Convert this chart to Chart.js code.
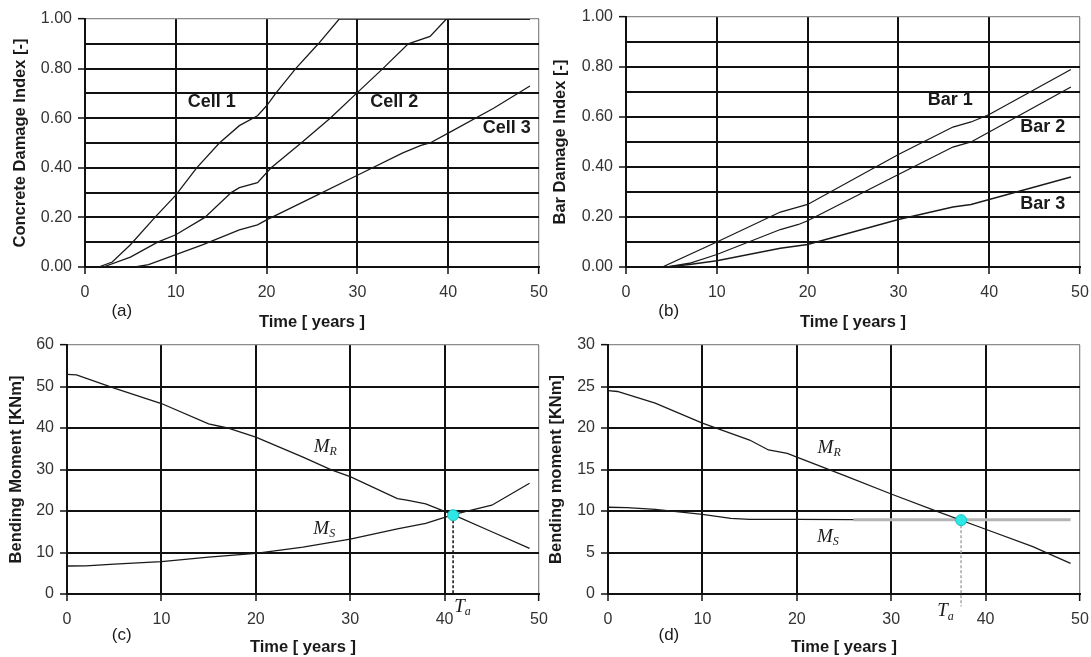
<!DOCTYPE html>
<html>
<head>
<meta charset="utf-8">
<title>Damage index and bending moment over time</title>
<script src="https://cdn.jsdelivr.net/npm/chart.js@4.4.1/dist/chart.umd.min.js"></script>
<style>
  html, body { margin: 0; padding: 0; background: #fff; }
  #wrap { position: relative; width: 1091px; height: 657px; overflow: hidden; }
  #wrap canvas { position: absolute; left: 0; top: 0; }
</style>
</head>
<body>
<div id="wrap">
  <canvas id="pa" width="1091" height="657"></canvas>
  <canvas id="pb" width="1091" height="657"></canvas>
  <canvas id="pc" width="1091" height="657"></canvas>
  <canvas id="pd" width="1091" height="657"></canvas>
</div>
<script>
// (a) concrete damage index per cell
const cell1T = [1.5, 3, 5, 7.7, 10, 12.3, 14.8, 17, 19, 20, 21, 23.2, 25.7, 28, 49];
const cell1D = [0, 0.02, 0.09, 0.2, 0.29, 0.4, 0.5, 0.57, 0.61, 0.65, 0.7, 0.8, 0.9, 1.0, 1.0];
const cell2T = [2, 5, 8, 10, 13.2, 16.1, 17, 19, 20.5, 23.8, 27, 29.9, 32.8, 35.6, 38, 39.8, 49];
const cell2D = [0, 0.04, 0.1, 0.13, 0.2, 0.3, 0.32, 0.34, 0.4, 0.5, 0.6, 0.7, 0.8, 0.9, 0.93, 1.0, 1.0];
const cell3T = [5.5, 7, 10, 13, 17, 19, 20, 25, 30, 35, 37, 38, 40, 45, 49];
const cell3D = [0, 0.01, 0.05, 0.09, 0.15, 0.17, 0.19, 0.28, 0.37, 0.46, 0.49, 0.5, 0.54, 0.64, 0.73];

// (b) bar damage index
const bar1T = [4, 10, 17, 20, 30, 36, 38, 40, 49];
const bar1D = [0, 0.10, 0.22, 0.25, 0.45, 0.56, 0.58, 0.61, 0.79];
const bar2T = [4.5, 7, 10, 17, 19, 20, 30, 36, 38, 40, 49];
const bar2D = [0, 0.015, 0.05, 0.15, 0.17, 0.185, 0.37, 0.48, 0.50, 0.54, 0.72];
const bar3T = [4.5, 7, 10, 17, 20, 30, 36, 38, 40, 49];
const bar3D = [0, 0.01, 0.025, 0.075, 0.09, 0.19, 0.24, 0.25, 0.27, 0.36];

// (c) bending moment, resistance and load effect
const mrcT = [0, 1, 5, 10, 15, 17, 20, 25, 28, 30, 35, 36, 38, 41, 45, 49];
const mrcM = [52.9, 52.8, 49.6, 45.9, 41, 40, 37.8, 33, 29.9, 28.3, 23, 22.6, 21.7, 19, 15, 11];
const mscT = [0, 2, 5, 10, 15, 20, 25, 30, 35, 38, 41, 45, 49];
const mscM = [6.75, 6.8, 7.2, 7.8, 8.9, 9.8, 11.3, 13.2, 15.7, 17, 19.2, 21.4, 26.7];
const crossC = { t: 40.9, m: 19.0 };

// (d) bending moment
const mrdT = [0, 1, 5, 10, 15, 17, 19, 20, 25, 30, 35, 40, 45, 49];
const mrdM = [24.5, 24.4, 23, 20.6, 18.55, 17.35, 16.95, 16.5, 14.3, 12.05, 9.9, 7.8, 5.7, 3.7];
const msdT = [0, 2, 5, 10, 13, 15, 20, 26];
const msdM = [10.45, 10.4, 10.2, 9.6, 9.1, 9.0, 9.0, 8.95];
const msdGreyT = [26, 49];
const msdGreyM = [8.95, 8.95];
const crossD = { t: 37.4, m: 8.9 };

const xTicks = [0, 10, 20, 30, 40, 50];

const SANS = '"Liberation Sans", Arial, sans-serif';
const SERIF = '"Liberation Serif", "Times New Roman", serif';
const W = 1091, H = 657;

const pts = (xs, ys) => xs.map((x, i) => ({ x: x, y: ys[i] }));
const line = (data, color, width) => ({
  data: data, borderColor: color || '#1a1a1a', borderWidth: width || 1.3,
  pointRadius: 0, tension: 0, fill: false
});

// text drawn on top of the plot: plain labels and italic symbols with a subscript
const notesPlugin = {
  id: 'notes',
  afterDatasetsDraw(chart, args, opts) {
    const { ctx, scales: { x, y }, chartArea } = chart;
    ctx.save();
    ctx.fillStyle = '#1a1a1a';
    ctx.textBaseline = 'middle';
    (opts.items || []).forEach(n => {
      const px = x.getPixelForValue(n.x);
      const py = n.dy !== undefined ? chartArea.bottom + n.dy : y.getPixelForValue(n.y);
      if (n.sub) {
        ctx.font = 'italic 19px ' + SERIF;
        const w1 = ctx.measureText(n.t).width;
        ctx.font = 'italic 12px ' + SERIF;
        const w2 = ctx.measureText(n.sub).width;
        const left = px - (w1 + w2) / 2;
        ctx.textAlign = 'left';
        ctx.font = 'italic 19px ' + SERIF;
        ctx.fillText(n.t, left, py);
        ctx.font = 'italic 12px ' + SERIF;
        ctx.fillText(n.sub, left + w1, py + 5);
      } else {
        ctx.textAlign = 'center';
        ctx.font = n.font;
        ctx.fillText(n.t, px, py);
      }
    });
    ctx.restore();
  }
};

function panel(id, p) {
  const a = p.area;
  const yW = a.left - (p.yTitleX - 10);
  const xH = p.xTitleY - a.bottom + 10;
  const isTop = v => Math.abs(v - p.yMax) < 1e-9;
  const isRight = v => Math.abs(v - 50) < 1e-9;
  const isMajor = v => Math.abs(v / p.labelStep - Math.round(v / p.labelStep)) < 1e-6;

  return new Chart(document.getElementById(id), {
    type: 'line',
    data: { datasets: p.datasets },
    options: {
      responsive: false,
      animation: false,
      devicePixelRatio: 1,
      events: [],
      layout: { padding: { left: a.left - yW, top: a.top, right: W - a.right, bottom: H - a.bottom - xH } },
      plugins: { legend: { display: false }, tooltip: { enabled: false }, notes: { items: p.notes } },
      scales: {
        x: {
          type: 'linear', min: 0, max: 50,
          afterBuildTicks: s => { s.ticks = xTicks.map(v => ({ value: v })); },
          afterFit: s => { s.height = xH; s.paddingLeft = 0; s.paddingRight = 0; },
          ticks: { color: '#333', padding: 9, maxRotation: 0, autoSkip: false,
                   font: { family: SANS, size: 16 } },
          grid: {
            color: c => c.tick && isRight(c.tick.value) ? '#8c8c8c' : '#111',
            lineWidth: c => c.tick && isRight(c.tick.value) ? 1.3 : 2,
            tickColor: '#111', tickWidth: 1.5, tickLength: 7
          },
          border: { color: '#111', width: 2 },
          title: { display: true, text: 'Time [ years ]', color: '#1a1a1a', padding: 0,
                   font: { family: SANS, size: 16.5, weight: 'bold', lineHeight: 1.2 } }
        },
        y: {
          min: 0, max: p.yMax,
          afterFit: s => { s.width = yW; s.paddingTop = 0; s.paddingBottom = 0; },
          ticks: { stepSize: p.yStep, autoSkip: false, color: '#333', padding: 6,
                   font: { family: SANS, size: 16 },
                   callback: v => isMajor(v) ? p.yFmt(v) : '' },
          grid: {
            color: c => c.tick && isTop(c.tick.value) ? '#8c8c8c' : '#111',
            lineWidth: c => c.tick && isTop(c.tick.value) ? 1.3 : 2,
            tickColor: c => c.tick && isMajor(c.tick.value) ? '#111' : 'rgba(0,0,0,0)',
            tickWidth: 1.5, tickLength: 7
          },
          border: { color: '#111', width: 2 },
          title: { display: true, text: p.yTitle, color: '#1a1a1a', padding: 0,
                   font: { family: SANS, size: 16.5, weight: 'bold', lineHeight: 1.2 } }
        }
      }
    },
    plugins: [notesPlugin]
  });
}

const labelFont = 'bold 18px ' + SANS;
const tagFont = '17px ' + SANS;

panel('pa', {
  area: { left: 85, top: 19, right: 539, bottom: 267 },
  yTitleX: 21, xTitleY: 322,
  yMax: 1, yStep: 0.1, labelStep: 0.2, yFmt: v => v.toFixed(2),
  yTitle: 'Concrete Damage Index [-]',
  datasets: [
    line(pts(cell1T, cell1D)),
    line(pts(cell2T, cell2D)),
    line(pts(cell3T, cell3D))
  ],
  notes: [
    { x: 13.96, y: 0.667, t: 'Cell 1', font: labelFont },
    { x: 34.06, y: 0.667, t: 'Cell 2', font: labelFont },
    { x: 46.44, y: 0.56, t: 'Cell 3', font: labelFont },
    { x: 4.05, dy: 44, t: '(a)', font: tagFont }
  ]
});

panel('pb', {
  area: { left: 626, top: 17, right: 1080, bottom: 267 },
  yTitleX: 561, xTitleY: 322,
  yMax: 1, yStep: 0.1, labelStep: 0.2, yFmt: v => v.toFixed(2),
  yTitle: 'Bar Damage Index [-]',
  datasets: [
    line(pts(bar1T, bar1D)),
    line(pts(bar2T, bar2D)),
    line(pts(bar3T, bar3D))
  ],
  notes: [
    { x: 35.7, y: 0.668, t: 'Bar 1', font: labelFont },
    { x: 45.9, y: 0.561, t: 'Bar 2', font: labelFont },
    { x: 45.9, y: 0.253, t: 'Bar 3', font: labelFont },
    { x: 4.7, dy: 44, t: '(b)', font: tagFont }
  ]
});

panel('pc', {
  area: { left: 67, top: 345, right: 539, bottom: 594 },
  yTitleX: 17, xTitleY: 647,
  yMax: 60, yStep: 10, labelStep: 10, yFmt: v => String(v),
  yTitle: 'Bending Moment [KNm]',
  datasets: [
    Object.assign(line([{ x: crossC.t, y: crossC.m }]), {
      pointRadius: 5.5, pointBackgroundColor: '#2ee8e8', pointBorderColor: '#18c2c2',
      pointBorderWidth: 1, showLine: false
    }),
    Object.assign(line([{ x: crossC.t, y: crossC.m }, { x: crossC.t, y: 0 }], '#111', 1.5),
      { borderDash: [3, 2] }),
    line(pts(mrcT, mrcM)),
    line(pts(mscT, mscM))
  ],
  notes: [
    { x: 27.36, y: 35.5, t: 'M', sub: 'R' },
    { x: 27.25, y: 15.7, t: 'M', sub: 'S' },
    { x: 41.9, y: -3.1, t: 'T', sub: 'a' },
    { x: 5.8, dy: 41, t: '(c)', font: tagFont }
  ]
});

panel('pd', {
  area: { left: 608, top: 345, right: 1080, bottom: 594 },
  yTitleX: 557, xTitleY: 647,
  yMax: 30, yStep: 5, labelStep: 5, yFmt: v => String(v),
  yTitle: 'Bending moment [KNm]',
  datasets: [
    Object.assign(line([{ x: crossD.t, y: crossD.m }]), {
      pointRadius: 5.5, pointBackgroundColor: '#2ee8e8', pointBorderColor: '#18c2c2',
      pointBorderWidth: 1, showLine: false
    }),
    line(pts(mrdT, mrdM)),
    Object.assign(line([{ x: crossD.t, y: crossD.m }, { x: crossD.t, y: -1.5 }], '#a8a8a8', 1.5),
      { borderDash: [3, 2], clip: false }),
    line(pts(msdT, msdM)),
    line(pts(msdGreyT, msdGreyM), '#b4b4b4', 3)
  ],
  notes: [
    { x: 23.43, y: 17.6, t: 'M', sub: 'R' },
    { x: 23.3, y: 6.87, t: 'M', sub: 'S' },
    { x: 35.75, y: -2.1, t: 'T', sub: 'a' },
    { x: 6.45, dy: 41, t: '(d)', font: tagFont }
  ]
});
</script>
</body>
</html>
